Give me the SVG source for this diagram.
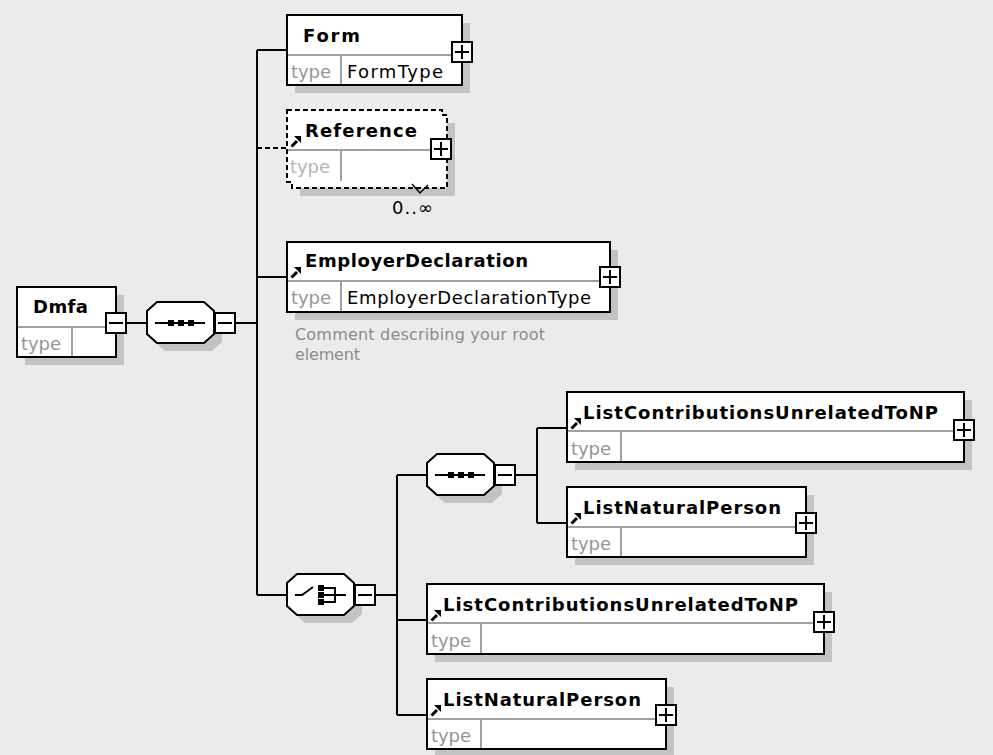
<svg xmlns="http://www.w3.org/2000/svg" xmlns:xlink="http://www.w3.org/1999/xlink" width="993" height="755" viewBox="0 0 993 755">
<style>
.bg{fill:#ebebeb}
.sh{fill:#c3c3c3;stroke:none}
.box{fill:#fff;stroke:#000;stroke-width:2}
.dbox{fill:#fff;stroke:#000;stroke-width:2;stroke-dasharray:5 3}
.div{stroke:#a0a0a0;stroke-width:2;fill:none}
.conn{stroke:#000;stroke-width:2;fill:none}
.dconn{stroke:#000;stroke-width:2;fill:none;stroke-dasharray:5 3}
.name{font-family:"DejaVu Sans","Liberation Sans",sans-serif;font-weight:bold;font-size:18px;fill:#000}
.lbl{font-family:"DejaVu Sans","Liberation Sans",sans-serif;font-size:18px;fill:#959595}
.lbl2{font-family:"DejaVu Sans","Liberation Sans",sans-serif;font-size:18px;fill:#b5b5b5}
.val{font-family:"DejaVu Sans","Liberation Sans",sans-serif;font-size:18px;fill:#000}
.cmt{font-family:"DejaVu Sans","Liberation Sans",sans-serif;font-size:16px;fill:#8c8c8c}
.pmbox{fill:#fff;stroke:#000;stroke-width:2}
.sign{stroke:#000;stroke-width:2;fill:none}
.ico{fill:#000;stroke:none}
</style>
<defs>
<path id="oct" d="M10,0H57L67,9V32L57,41H10L0,32V9Z"/>
<g id="plus"><rect class="pmbox" x="0" y="0" width="20" height="20"/><path class="sign" d="M3,10H17M10,3V17"/></g>
<g id="minus"><rect class="pmbox" x="0" y="0" width="20" height="20"/><path class="sign" d="M3,10H17"/></g>
<g id="arr"><path class="sign" style="stroke-width:3" d="M1.5,10.5L7,5"/><path class="ico" d="M4,0H11V7Z"/></g>
</defs>
<rect class="bg" x="0" y="0" width="993" height="755"/>

<g id="connectors">
<path class="conn" d="M125,323H147"/>
<path class="conn" d="M235,323H257"/>
<path class="conn" d="M257,50V595"/>
<path class="conn" d="M257,50H287"/>
<path class="dconn" d="M257,148H287"/>
<path class="conn" d="M257,277H287"/>
<path class="conn" d="M257,595H287"/>
<path class="conn" d="M375,595H397"/>
<path class="conn" d="M397,475V715"/>
<path class="conn" d="M397,475H427"/>
<path class="conn" d="M397,620H427"/>
<path class="conn" d="M397,715H427"/>
<path class="conn" d="M515,475H537"/>
<path class="conn" d="M537,428V523"/>
<path class="conn" d="M537,428H567"/>
<path class="conn" d="M537,523H567"/>
</g>

<g id="node-dmfa">
<rect class="sh" x="25" y="295" width="99" height="70"/>
<rect class="box" x="17" y="287" width="99" height="70"/>
<path class="div" d="M18,327H115M72,327V356"/>
<text class="name" x="33" y="313" textLength="55" lengthAdjust="spacing">Dmfa</text>
<text class="lbl" x="21" y="350" textLength="40" lengthAdjust="spacing">type</text>
<use xlink:href="#minus" x="106" y="313"/>
</g>

<g id="node-seq1">
<use xlink:href="#oct" class="sh" x="155" y="310"/>
<use xlink:href="#oct" class="box" x="147" y="302"/>
<path class="sign" d="M155,323H205"/>
<rect class="ico" x="168" y="320" width="6" height="6"/>
<rect class="ico" x="178" y="320" width="6" height="6"/>
<rect class="ico" x="188" y="320" width="6" height="6"/>
<use xlink:href="#minus" x="215" y="313"/>
</g>

<g id="node-form">
<rect class="sh" x="295" y="23" width="175" height="70"/>
<rect class="box" x="287" y="15" width="175" height="70"/>
<path class="div" d="M288,55H461M341,55V84"/>
<text class="name" x="303" y="42" textLength="57" lengthAdjust="spacing">Form</text>
<text class="lbl" x="291" y="78" textLength="40" lengthAdjust="spacing">type</text>
<text class="val" x="347" y="78" textLength="96" lengthAdjust="spacing">FormType</text>
<use xlink:href="#plus" x="452" y="42"/>
</g>

<g id="node-reference">
<rect class="sh" x="300" y="123" width="155" height="73"/>
<path class="dbox" d="M287,110H442V115H447V188H292V182H287Z"/>
<path class="div" d="M288,150H446M341,150V181"/>
<use xlink:href="#arr" x="290" y="136"/>
<text class="name" x="305" y="137" textLength="112" lengthAdjust="spacing">Reference</text>
<text class="lbl2" x="290" y="173" textLength="40" lengthAdjust="spacing">type</text>
<use xlink:href="#plus" x="431" y="139"/>
<polyline class="sign" points="412,184 420,193 428,185" style="stroke-width:1.5"/>
<text class="val" x="392" y="214" textLength="41" lengthAdjust="spacing">0..∞</text>
</g>

<g id="node-employerdeclaration">
<rect class="sh" x="295" y="250" width="323" height="70"/>
<rect class="box" x="287" y="242" width="323" height="70"/>
<path class="div" d="M288,281H609M341,281V311"/>
<use xlink:href="#arr" x="290" y="267"/>
<text class="name" x="305" y="267" textLength="223" lengthAdjust="spacing">EmployerDeclaration</text>
<text class="lbl" x="291" y="304" textLength="40" lengthAdjust="spacing">type</text>
<text class="val" x="347" y="304" textLength="244" lengthAdjust="spacing">EmployerDeclarationType</text>
<use xlink:href="#plus" x="600" y="267"/>
<text class="cmt" x="295" y="340" textLength="250" lengthAdjust="spacing">Comment describing your root</text>
<text class="cmt" x="295" y="360" textLength="65" lengthAdjust="spacing">element</text>
</g>

<g id="node-choice">
<use xlink:href="#oct" class="sh" x="295" y="582"/>
<use xlink:href="#oct" class="box" x="287" y="574"/>
<path class="sign" d="M295,595H302L313,587"/>
<rect class="ico" x="318" y="585" width="6" height="6"/>
<rect class="ico" x="318" y="592" width="6" height="6"/>
<rect class="ico" x="318" y="599" width="6" height="6"/>
<path class="sign" d="M324,588H335V602H324M324,595H346"/>
<use xlink:href="#minus" x="355" y="585"/>
</g>

<g id="node-seq2">
<use xlink:href="#oct" class="sh" x="435" y="462"/>
<use xlink:href="#oct" class="box" x="427" y="454"/>
<path class="sign" d="M435,475H485"/>
<rect class="ico" x="448" y="472" width="6" height="6"/>
<rect class="ico" x="458" y="472" width="6" height="6"/>
<rect class="ico" x="468" y="472" width="6" height="6"/>
<use xlink:href="#minus" x="495" y="465"/>
</g>

<g id="node-listcontrib-1">
<rect class="sh" x="575" y="400" width="397" height="70"/>
<rect class="box" x="567" y="392" width="397" height="70"/>
<path class="div" d="M568,431H963M621,431V461"/>
<use xlink:href="#arr" x="570" y="418"/>
<text class="name" x="583" y="419" textLength="355" lengthAdjust="spacing">ListContributionsUnrelatedToNP</text>
<text class="lbl" x="571" y="455" textLength="40" lengthAdjust="spacing">type</text>
<use xlink:href="#plus" x="954" y="420"/>
</g>

<g id="node-listnatural-1">
<rect class="sh" x="575" y="495" width="239" height="70"/>
<rect class="box" x="567" y="487" width="239" height="70"/>
<path class="div" d="M568,527H805M621,527V556"/>
<use xlink:href="#arr" x="570" y="513"/>
<text class="name" x="583" y="514" textLength="198" lengthAdjust="spacing">ListNaturalPerson</text>
<text class="lbl" x="571" y="550" textLength="40" lengthAdjust="spacing">type</text>
<use xlink:href="#plus" x="796" y="513"/>
</g>

<g id="node-listcontrib-2">
<rect class="sh" x="435" y="592" width="397" height="70"/>
<rect class="box" x="427" y="584" width="397" height="70"/>
<path class="div" d="M428,623H823M481,623V653"/>
<use xlink:href="#arr" x="430" y="610"/>
<text class="name" x="443" y="611" textLength="355" lengthAdjust="spacing">ListContributionsUnrelatedToNP</text>
<text class="lbl" x="431" y="647" textLength="40" lengthAdjust="spacing">type</text>
<use xlink:href="#plus" x="814" y="612"/>
</g>

<g id="node-listnatural-2">
<rect class="sh" x="435" y="687" width="239" height="70"/>
<rect class="box" x="427" y="679" width="239" height="70"/>
<path class="div" d="M428,719H665M481,719V748"/>
<use xlink:href="#arr" x="430" y="705"/>
<text class="name" x="443" y="706" textLength="198" lengthAdjust="spacing">ListNaturalPerson</text>
<text class="lbl" x="431" y="742" textLength="40" lengthAdjust="spacing">type</text>
<use xlink:href="#plus" x="656" y="705"/>
</g>
</svg>
